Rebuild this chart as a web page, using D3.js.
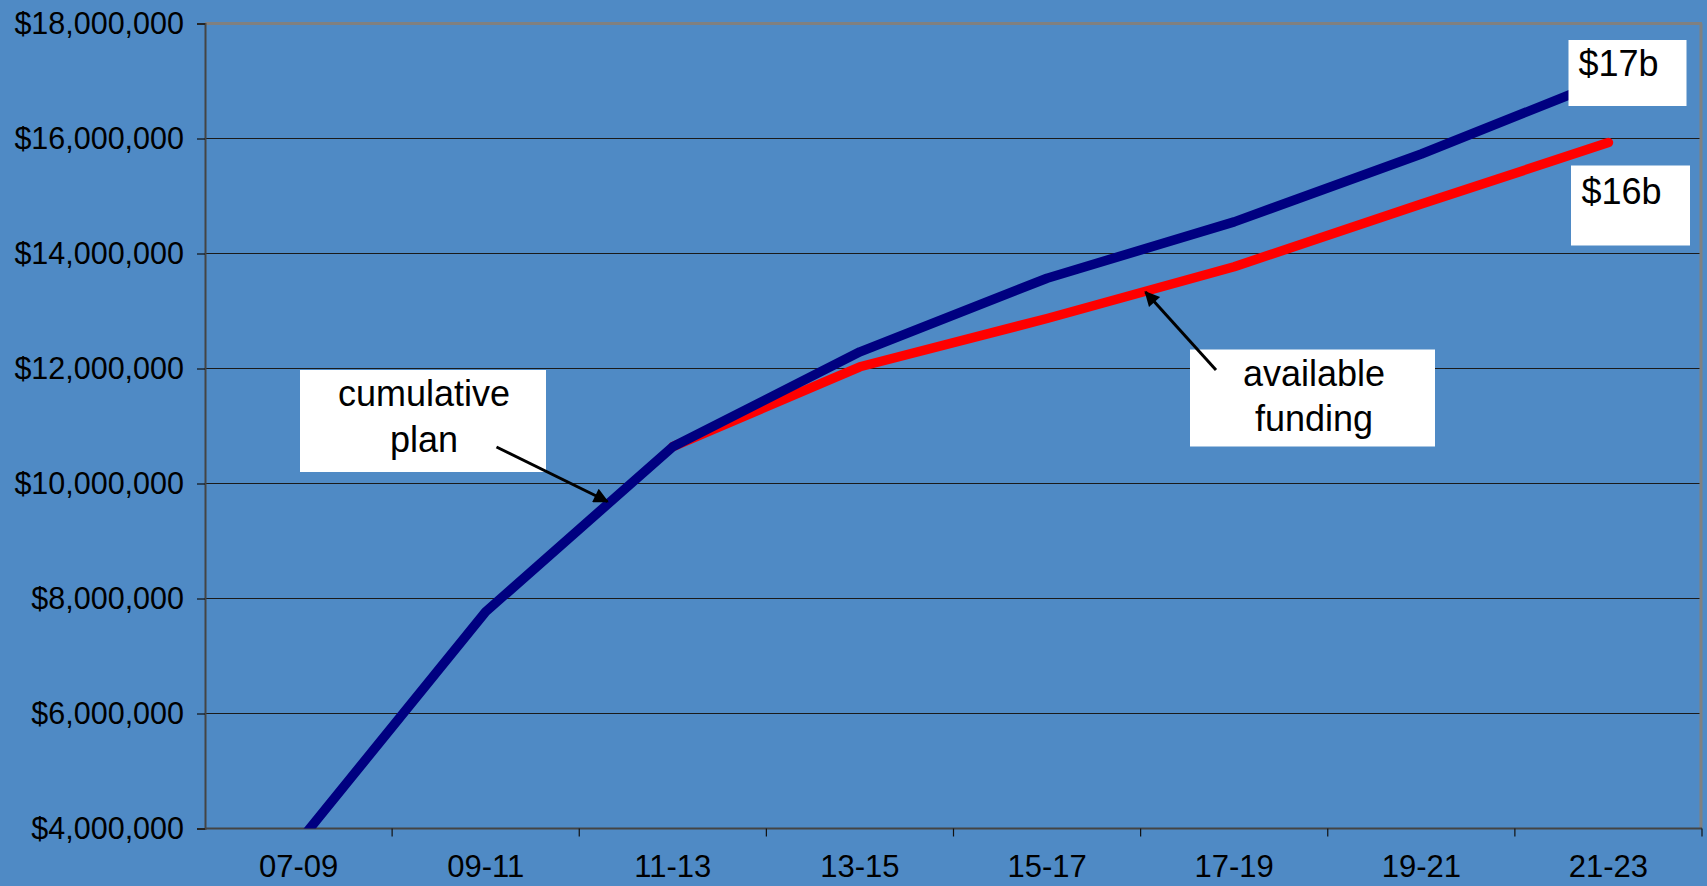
<!DOCTYPE html>
<html>
<head>
<meta charset="utf-8">
<script src="https://cdn.jsdelivr.net/npm/d3@7"></script>
<style>
  html, body { margin: 0; padding: 0; background: #4f8ac5; }
  svg { display: block; }
  text { font-family: "Liberation Sans", Arial, sans-serif; fill: #000; }
</style>
</head>
<body>
<svg id="chart" width="1707" height="886"></svg>
<script>
// Biennium periods on the x axis
const categories = ["07-09", "09-11", "11-13", "13-15", "15-17", "17-19", "19-21", "21-23"];
// Cumulative plan (dollars)
const planValues = [3760000, 7770000, 10640000, 12290000, 13570000, 14550000, 15730000, 17030000];
// Available funding (dollars); starts at 11-13
const fundingValues = [null, null, 10640000, 12030000, 12870000, 13770000, 14860000, 15930000];
// Value axis ticks
const yTickValues = [4000000, 6000000, 8000000, 10000000, 12000000, 14000000, 16000000, 18000000];
// Callout texts
const planEndLabel = "$17b";
const fundingEndLabel = "$16b";
const planCallout = ["cumulative", "plan"];
const fundingCallout = ["available", "funding"];

const W = 1707, H = 886;
const margin = { top: 23.5, right: 5, bottom: 57.5, left: 205 };
const svg = d3.select("#chart");
const bg = "#4f8ac5";

svg.append("rect").attr("width", W).attr("height", H).attr("fill", bg);

const x = d3.scaleBand().domain(categories).range([margin.left, W - margin.right]).padding(0);
const y = d3.scaleLinear().domain([4000000, 18000000]).range([H - margin.bottom, margin.top]);
const cx = c => x(c) + x.bandwidth() / 2;

// Horizontal gridlines
svg.append("g").selectAll("line").data(yTickValues.slice(1, -1)).join("line")
  .attr("x1", margin.left).attr("x2", W - margin.right)
  .attr("y1", d => y(d)).attr("y2", d => y(d))
  .attr("stroke", "#1a1a1a").attr("stroke-width", 1.2);

// Plot frame: gray top and right edges
svg.append("line").attr("x1", margin.left).attr("x2", W - margin.right)
  .attr("y1", margin.top).attr("y2", margin.top)
  .attr("stroke", "#808080").attr("stroke-width", 3);
svg.append("line").attr("x1", W - margin.right - 1).attr("x2", W - margin.right - 1)
  .attr("y1", margin.top).attr("y2", H - margin.bottom)
  .attr("stroke", "#808080").attr("stroke-width", 3);

// Y axis
const yAxis = d3.axisLeft(y).tickValues(yTickValues)
  .tickFormat(d => "$" + d3.format(",")(d)).tickSize(8).tickPadding(13);
const gy = svg.append("g").attr("transform", `translate(${margin.left},0)`).call(yAxis);
gy.select(".domain").attr("stroke", "#444").attr("stroke-width", 2);
gy.selectAll(".tick line").attr("stroke", "#111").attr("stroke-width", 1.2);
gy.selectAll(".tick text").attr("font-size", 30.5).attr("font-family", "Liberation Sans, Arial, sans-serif").attr("fill", "#000");

// X axis: labels centred in bands, tick marks on band edges
const xAxis = d3.axisBottom(x).tickSize(0).tickPadding(26);
const gx = svg.append("g").attr("transform", `translate(0,${H - margin.bottom})`).call(xAxis);
gx.select(".domain").remove();
gx.selectAll(".tick text").attr("font-size", 31).attr("font-family", "Liberation Sans, Arial, sans-serif").attr("fill", "#000");
svg.append("line").attr("x1", margin.left).attr("x2", W - margin.right)
  .attr("y1", H - margin.bottom).attr("y2", H - margin.bottom)
  .attr("stroke", "#444").attr("stroke-width", 2);
const edges = categories.map(c => x(c)).concat([W - margin.right]);
svg.append("g").selectAll("line").data(edges.slice(1)).join("line")
  .attr("x1", d => d).attr("x2", d => d)
  .attr("y1", H - margin.bottom).attr("y2", H - margin.bottom + 8)
  .attr("stroke", "#111").attr("stroke-width", 1.2);

// Clip series to the plot area
svg.append("clipPath").attr("id", "plot-clip").append("rect")
  .attr("x", margin.left).attr("y", 0)
  .attr("width", W - margin.left).attr("height", H - margin.bottom);

const line = d3.line()
  .defined(d => d.v != null)
  .x(d => cx(d.c)).y(d => y(d.v));

const series = svg.append("g").attr("clip-path", "url(#plot-clip)");
series.append("path")
  .datum(categories.map((c, i) => ({ c, v: fundingValues[i] })))
  .attr("d", line).attr("fill", "none")
  .attr("stroke", "#ff0000").attr("stroke-width", 9.5)
  .attr("stroke-linejoin", "round").attr("stroke-linecap", "round");
series.append("path")
  .datum(categories.map((c, i) => ({ c, v: planValues[i] })))
  .attr("d", line).attr("fill", "none")
  .attr("stroke", "#000080").attr("stroke-width", 9.5)
  .attr("stroke-linejoin", "round").attr("stroke-linecap", "round");

// Arrowhead marker
svg.append("defs").append("marker")
  .attr("id", "arrow").attr("viewBox", "0 0 10 10")
  .attr("refX", 9).attr("refY", 5)
  .attr("markerWidth", 6).attr("markerHeight", 5)
  .attr("markerUnits", "strokeWidth")
  .attr("orient", "auto")
  .append("path").attr("d", "M0,0 L10,5 L0,10 Z").attr("fill", "#000");

function box(x0, y0, w, h) {
  svg.append("rect").attr("x", x0).attr("y", y0).attr("width", w).attr("height", h).attr("fill", "#fff");
}

// Callout: cumulative plan
box(300, 370, 246, 102);
svg.append("text").attr("x", 424).attr("y", 406).attr("text-anchor", "middle").attr("font-size", 36).text(planCallout[0]);
svg.append("text").attr("x", 424).attr("y", 452).attr("text-anchor", "middle").attr("font-size", 36).text(planCallout[1]);
svg.append("line").attr("x1", 496.5).attr("y1", 447).attr("x2", 607.5).attr("y2", 501.5)
  .attr("stroke", "#000").attr("stroke-width", 3).attr("marker-end", "url(#arrow)");

// Callout: available funding
box(1190, 349.5, 245, 97);
svg.append("text").attr("x", 1314).attr("y", 386).attr("text-anchor", "middle").attr("font-size", 36).text(fundingCallout[0]);
svg.append("text").attr("x", 1314).attr("y", 431).attr("text-anchor", "middle").attr("font-size", 36).text(fundingCallout[1]);
svg.append("line").attr("x1", 1216).attr("y1", 370).attr("x2", 1145.5).attr("y2", 292)
  .attr("stroke", "#000").attr("stroke-width", 3).attr("marker-end", "url(#arrow)");

// End-value labels
box(1568.5, 40, 118, 66);
svg.append("text").attr("x", 1578.5).attr("y", 76).attr("font-size", 36).text(planEndLabel);
box(1571, 165.5, 119, 80);
svg.append("text").attr("x", 1581.5).attr("y", 204).attr("font-size", 36).text(fundingEndLabel);
</script>
</body>
</html>
